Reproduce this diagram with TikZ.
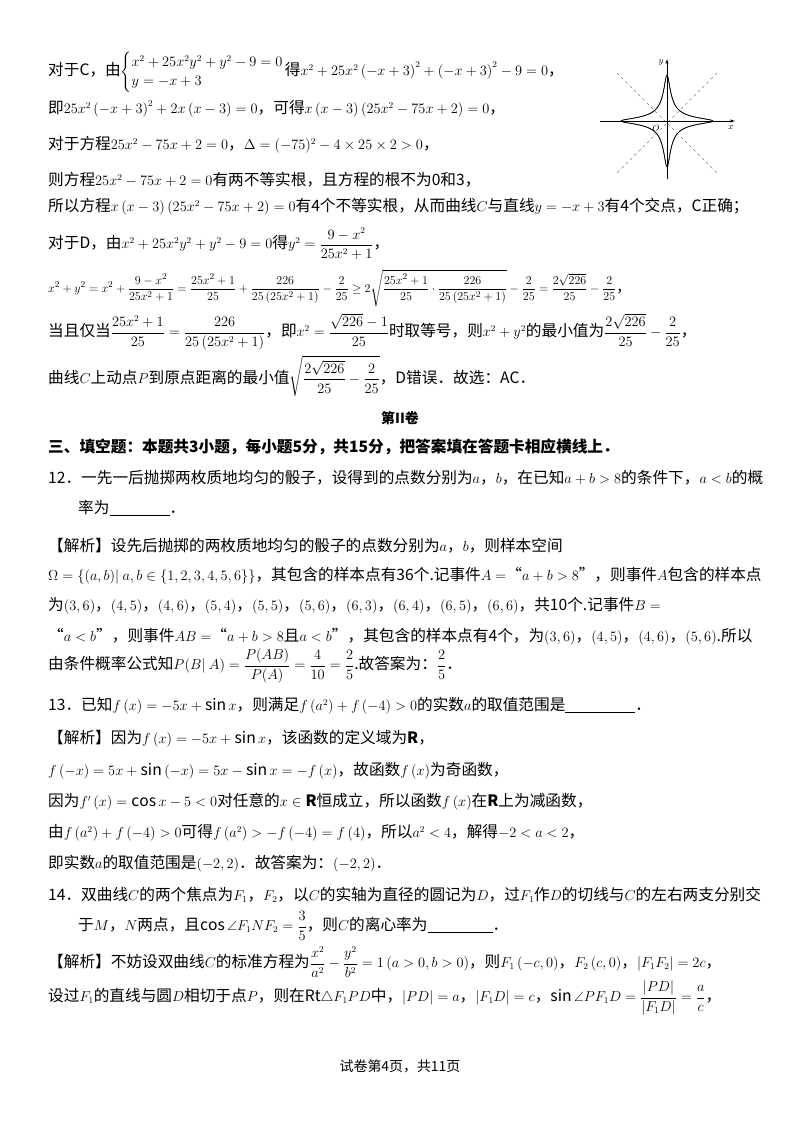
\documentclass[tikz,border=0pt]{standalone}
\usepackage{amsmath,amssymb}
\usepackage{fontspec}
\setmainfont[Scale=1.16]{Noto Sans CJK SC}
\begin{document}
\begin{tikzpicture}[x=1pt,y=-1pt,
 ln/.style={anchor=west,inner sep=0pt,font=\fontsize{13.5}{16}\selectfont},
 ax/.style={-latex,line width=0.5pt},
 dg/.style={dashed,line width=0.4pt,gray}]
\useasboundingbox (0,0) rectangle (800,1132);
% figure
\begin{scope}[shift={(667,121)}]
\draw[dg] (-50,-48) -- (50,52) coordinate (d1);
\draw[dg] (50,-48) -- (-50,52) coordinate (d2);
\draw[ax] (-67,0) -- (68,0) coordinate (xe);
\draw[ax] (0,58) -- (0,-62) coordinate (ye);
\node[font=\fontsize{9}{9}\selectfont] (xl) at (64,7) {$x$};
\node[font=\fontsize{9}{9}\selectfont] (yl) at (-6,-59) {$y$};
\node[font=\fontsize{9}{9}\selectfont] (ol) at (-11,7) {$O$};
\draw[line width=0.6pt,domain=-2.999:2.999,samples=200,variable=\t]
 plot ({15.3*\t},{15.3*sqrt(max(0,(9-\t*\t)/(25*\t*\t+1)))});
\draw[line width=0.6pt,domain=-2.999:2.999,samples=200,variable=\t]
 plot ({15.3*\t},{-15.3*sqrt(max(0,(9-\t*\t)/(25*\t*\t+1)))});
\draw[line width=0.6pt,domain=-3:3,samples=200,variable=\t]
 plot ({15.3*sqrt(max(0,(9-\t*\t)/(25*\t*\t+1)))},{15.3*\t});
\draw[line width=0.6pt,domain=-3:3,samples=200,variable=\t]
 plot ({-15.3*sqrt(max(0,(9-\t*\t)/(25*\t*\t+1)))},{15.3*\t});
\end{scope}
% text
\node[ln] (l1) at (48,72) {对于C，由$\begin{cases}x^2+25x^2y^2+y^2-9=0\\ y=-x+3\end{cases}\!\!\!\!\!\!$得$x^2+25x^2\left(-x+3\right)^2+\left(-x+3\right)^2-9=0$，};
\node[ln] (l2) at (48,109) {即$25x^2\left(-x+3\right)^2+2x\left(x-3\right)=0$，可得$x\left(x-3\right)\left(25x^2-75x+2\right)=0$，};
\node[ln] (l3) at (48,145) {对于方程$25x^2-75x+2=0$，$\Delta=(-75)^2-4\times25\times2>0$，};
\node[ln] (l4) at (48,180) {则方程$25x^2-75x+2=0$有两不等实根，且方程的根不为0和3，};
\node[ln] (l5) at (48,207) {所以方程$x\left(x-3\right)\left(25x^2-75x+2\right)=0$有4个不等实根，从而曲线$C$与直线$y=-x+3$有4个交点，C正确；};
\node[ln] (l6) at (48,244) {对于D，由$x^2+25x^2y^2+y^2-9=0$得$y^2=\dfrac{9-x^2}{25x^2+1}$，};
\node[ln,font=\fontsize{12.3}{15}\selectfont] (l7) at (48,288) {$x^2+y^2=x^2+\dfrac{9-x^2}{25x^2+1}=\dfrac{25x^2+1}{25}+\dfrac{226}{25\left(25x^2+1\right)}-\dfrac{2}{25}\ge2\sqrt{\dfrac{25x^2+1}{25}\cdot\dfrac{226}{25\left(25x^2+1\right)}}-\dfrac{2}{25}=\dfrac{2\sqrt{226}}{25}-\dfrac{2}{25}$，};
\node[ln] (l8) at (48,332) {当且仅当$\dfrac{25x^2+1}{25}=\dfrac{226}{25\left(25x^2+1\right)}$，即$x^2=\dfrac{\sqrt{226}-1}{25}$时取等号，则$x^2+y^2$的最小值为$\dfrac{2\sqrt{226}}{25}-\dfrac{2}{25}$，};
\node[ln] (l9) at (48,376) {曲线$C$上动点$P$到原点距离的最小值$\sqrt{\dfrac{2\sqrt{226}}{25}-\dfrac{2}{25}}$，D错误．故选：AC．};
\node[anchor=center,inner sep=0pt,font=\bfseries\fontsize{12}{14}\selectfont] (h) at (400,418) {第II卷};
\node[ln,font=\bfseries\fontsize{13.5}{16}\selectfont] (s3) at (48,447) {三、填空题：本题共3小题，每小题5分，共15分，把答案填在答题卡相应横线上．};
\node[ln] (q12) at (48,478) {12．一先一后抛掷两枚质地均匀的骰子，设得到的点数分别为$a$，$b$，在已知$a+b>8$的条件下，$a<b$的概};
\node[ln] (q12b) at (78,508) {率为\underline{\hspace{60pt}}．};
\node[ln] (a1) at (48,546) {【解析】设先后抛掷的两枚质地均匀的骰子的点数分别为$a$，$b$，则样本空间};
\node[ln] (a2) at (48,576) {$\Omega=\{(a,b)|\ a,b\in\{1,2,3,4,5,6\}\}$，其包含的样本点有36个.记事件$A=$“$a+b>8$”，则事件$A$包含的样本点};
\node[ln] (a3) at (48,606) {为$(3,6)$，$(4,5)$，$(4,6)$，$(5,4)$，$(5,5)$，$(5,6)$，$(6,3)$，$(6,4)$，$(6,5)$，$(6,6)$，共10个.记事件$B=$};
\node[ln] (a4) at (48,637) {“$a<b$”，则事件$AB=$“$a+b>8$且$a<b$”，其包含的样本点有4个，为$(3,6)$，$(4,5)$，$(4,6)$，$(5,6)$.所以};
\node[ln] (a5) at (48,666) {由条件概率公式知$P(B|\ A)=\dfrac{P(AB)}{P(A)}=\dfrac{4}{10}=\dfrac{2}{5}$.故答案为：$\dfrac{2}{5}$．};
\node[ln] (q13) at (48,706) {13．已知$f\left(x\right)=-5x+\sin x$，则满足$f\left(a^2\right)+f\left(-4\right)>0$的实数$a$的取值范围是\underline{\hspace{70pt}}．};
\node[ln] (b1) at (48,739) {【解析】因为$f\left(x\right)=-5x+\sin x$，该函数的定义域为$\mathbf{R}$，};
\node[ln] (b2) at (48,771) {$f\left(-x\right)=5x+\sin\left(-x\right)=5x-\sin x=-f\left(x\right)$，故函数$f\left(x\right)$为奇函数，};
\node[ln] (b3) at (48,802) {因为$f'\left(x\right)=\cos x-5<0$对任意的$x\in\mathbf{R}$恒成立，所以函数$f\left(x\right)$在$\mathbf{R}$上为减函数，};
\node[ln] (b4) at (48,833) {由$f\left(a^2\right)+f\left(-4\right)>0$可得$f\left(a^2\right)>-f\left(-4\right)=f\left(4\right)$，所以$a^2<4$，解得$-2<a<2$，};
\node[ln] (b5) at (48,864) {即实数$a$的取值范围是$\left(-2,2\right)$．故答案为：$\left(-2,2\right)$．};
\node[ln] (q14) at (48,895) {14．双曲线$C$的两个焦点为$F_1$，$F_2$，以$C$的实轴为直径的圆记为$D$，过$F_1$作$D$的切线与$C$的左右两支分别交};
\node[ln] (q14b) at (78,926) {于$M$，$N$两点，且$\cos\angle F_1NF_2=\dfrac{3}{5}$，则$C$的离心率为\underline{\hspace{65pt}}．};
\node[ln] (c1) at (48,962) {【解析】不妨设双曲线$C$的标准方程为$\dfrac{x^2}{a^2}-\dfrac{y^2}{b^2}=1\left(a>0,b>0\right)$，则$F_1\left(-c,0\right)$，$F_2\left(c,0\right)$，$\left|F_1F_2\right|=2c$，};
\node[ln] (c2) at (48,998) {设过$F_1$的直线与圆$D$相切于点$P$，则在Rt$\triangle F_1PD$中，$\left|PD\right|=a$，$\left|F_1D\right|=c$，$\sin\angle PF_1D=\dfrac{\left|PD\right|}{\left|F_1D\right|}=\dfrac{a}{c}$，};
\node[anchor=center,inner sep=0pt,font=\fontsize{12}{14}\selectfont] (ft) at (400,1066) {试卷第4页，共11页};
\end{tikzpicture}
\end{document}
